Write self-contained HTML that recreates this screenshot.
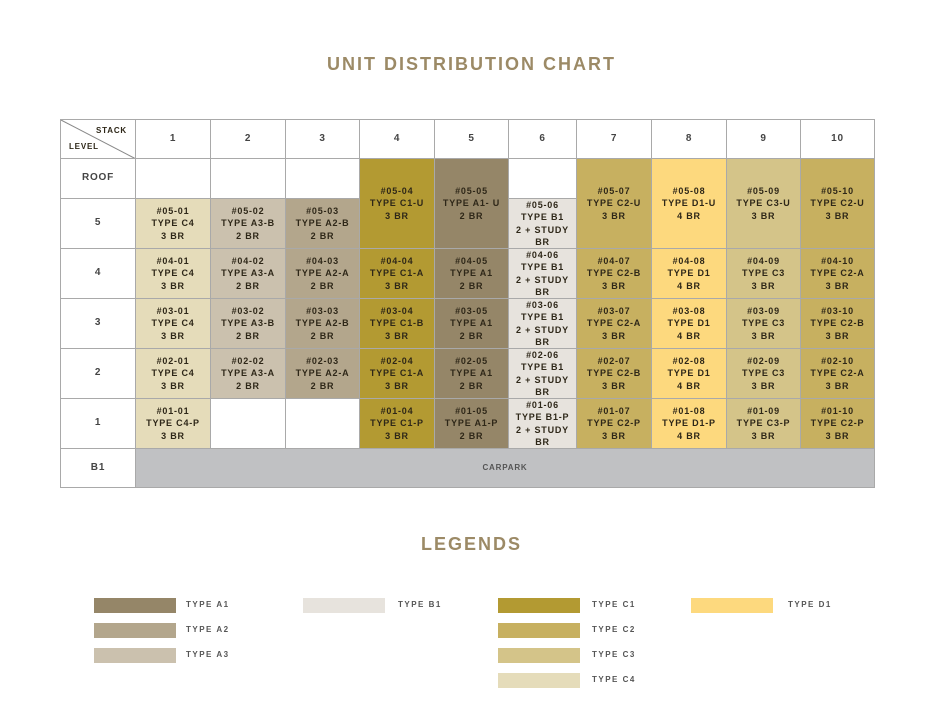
<!DOCTYPE html>
<html><head><meta charset="utf-8"><style>
body{margin:0;width:943px;height:717px;background:#fff;position:relative;font-family:"Liberation Sans",sans-serif;overflow:hidden}
.t{position:absolute;color:#9c8a66;letter-spacing:2px;text-align:center;width:943px;left:0;font-weight:bold}
.c{position:absolute;box-sizing:border-box;border:1px solid #a9a9a9;display:flex;align-items:center;justify-content:center;text-align:center;font-size:9px;letter-spacing:0.8px;line-height:12.5px;color:#2e2718;font-weight:bold}
.h{font-size:10px;color:#444}
.A1{background:#958668}.A2{background:#b3a68c}.A3{background:#cbc1ae}.B1{background:#e7e3dd}.C1{background:#b39a32}.C2{background:#c7b060}.C3{background:#d4c489}.C4{background:#e5dcba}.D1{background:#fdd97e}
.s{position:absolute;width:82px;height:15px}
.l{position:absolute;font-size:8px;letter-spacing:1.5px;color:#555;font-weight:bold}
</style></head><body>
<div class="t" style="top:54px;font-size:18px">UNIT DISTRIBUTION CHART</div>
<div class="t" style="top:534px;font-size:18px">LEGENDS</div>

<div class="c" style="left:60px;top:119px;width:76px;height:40px;display:block">
<svg width="75" height="39" style="position:absolute;left:0;top:0"><line x1="0" y1="0" x2="75" y2="39" stroke="#888" stroke-width="1"/></svg>
<span style="position:absolute;right:8px;top:5px;font-size:8px">STACK</span>
<span style="position:absolute;left:8px;bottom:5px;font-size:8px">LEVEL</span></div>
<div class="c h" style="left:135px;top:119px;width:76px;height:40px">1</div>
<div class="c h" style="left:210px;top:119px;width:76px;height:40px">2</div>
<div class="c h" style="left:285px;top:119px;width:75px;height:40px">3</div>
<div class="c h" style="left:359px;top:119px;width:76px;height:40px">4</div>
<div class="c h" style="left:434px;top:119px;width:75px;height:40px">5</div>
<div class="c h" style="left:508px;top:119px;width:69px;height:40px">6</div>
<div class="c h" style="left:576px;top:119px;width:76px;height:40px">7</div>
<div class="c h" style="left:651px;top:119px;width:76px;height:40px">8</div>
<div class="c h" style="left:726px;top:119px;width:75px;height:40px">9</div>
<div class="c h" style="left:800px;top:119px;width:75px;height:40px">10</div>

<div class="c h" style="left:60px;top:158px;width:76px;height:41px">ROOF</div>
<div class="c h" style="left:60px;top:198px;width:76px;height:51px">5</div>
<div class="c h" style="left:60px;top:248px;width:76px;height:51px">4</div>
<div class="c h" style="left:60px;top:298px;width:76px;height:51px">3</div>
<div class="c h" style="left:60px;top:348px;width:76px;height:51px">2</div>
<div class="c h" style="left:60px;top:398px;width:76px;height:51px">1</div>
<div class="c h" style="left:60px;top:448px;width:76px;height:40px">B1</div>
<div class="c" style="left:135px;top:448px;width:740px;height:40px;background:#c0c1c3;font-size:8px;color:#555">CARPARK</div>

<div class="c" style="left:135px;top:158px;width:76px;height:41px"></div>
<div class="c" style="left:210px;top:158px;width:76px;height:41px"></div>
<div class="c" style="left:285px;top:158px;width:75px;height:41px"></div>
<div class="c" style="left:508px;top:158px;width:69px;height:41px"></div>

<div class="c C4" style="left:135px;top:198px;width:76px;height:51px">#05-01<br>TYPE C4<br>3 BR</div>
<div class="c C4" style="left:135px;top:248px;width:76px;height:51px">#04-01<br>TYPE C4<br>3 BR</div>
<div class="c C4" style="left:135px;top:298px;width:76px;height:51px">#03-01<br>TYPE C4<br>3 BR</div>
<div class="c C4" style="left:135px;top:348px;width:76px;height:51px">#02-01<br>TYPE C4<br>3 BR</div>
<div class="c C4" style="left:135px;top:398px;width:76px;height:51px">#01-01<br>TYPE C4-P<br>3 BR</div>
<div class="c A3" style="left:210px;top:198px;width:76px;height:51px">#05-02<br>TYPE A3-B<br>2 BR</div>
<div class="c A3" style="left:210px;top:248px;width:76px;height:51px">#04-02<br>TYPE A3-A<br>2 BR</div>
<div class="c A3" style="left:210px;top:298px;width:76px;height:51px">#03-02<br>TYPE A3-B<br>2 BR</div>
<div class="c A3" style="left:210px;top:348px;width:76px;height:51px">#02-02<br>TYPE A3-A<br>2 BR</div>
<div class="c" style="left:210px;top:398px;width:76px;height:51px"></div>
<div class="c A2" style="left:285px;top:198px;width:75px;height:51px">#05-03<br>TYPE A2-B<br>2 BR</div>
<div class="c A2" style="left:285px;top:248px;width:75px;height:51px">#04-03<br>TYPE A2-A<br>2 BR</div>
<div class="c A2" style="left:285px;top:298px;width:75px;height:51px">#03-03<br>TYPE A2-B<br>2 BR</div>
<div class="c A2" style="left:285px;top:348px;width:75px;height:51px">#02-03<br>TYPE A2-A<br>2 BR</div>
<div class="c" style="left:285px;top:398px;width:75px;height:51px"></div>
<div class="c C1" style="left:359px;top:158px;width:76px;height:91px">#05-04<br>TYPE C1-U<br>3 BR</div>
<div class="c C1" style="left:359px;top:248px;width:76px;height:51px">#04-04<br>TYPE C1-A<br>3 BR</div>
<div class="c C1" style="left:359px;top:298px;width:76px;height:51px">#03-04<br>TYPE C1-B<br>3 BR</div>
<div class="c C1" style="left:359px;top:348px;width:76px;height:51px">#02-04<br>TYPE C1-A<br>3 BR</div>
<div class="c C1" style="left:359px;top:398px;width:76px;height:51px">#01-04<br>TYPE C1-P<br>3 BR</div>
<div class="c A1" style="left:434px;top:158px;width:75px;height:91px">#05-05<br>TYPE A1- U<br>2 BR</div>
<div class="c A1" style="left:434px;top:248px;width:75px;height:51px">#04-05<br>TYPE A1<br>2 BR</div>
<div class="c A1" style="left:434px;top:298px;width:75px;height:51px">#03-05<br>TYPE A1<br>2 BR</div>
<div class="c A1" style="left:434px;top:348px;width:75px;height:51px">#02-05<br>TYPE A1<br>2 BR</div>
<div class="c A1" style="left:434px;top:398px;width:75px;height:51px">#01-05<br>TYPE A1-P<br>2 BR</div>
<div class="c B1" style="left:508px;top:198px;width:69px;height:51px">#05-06<br>TYPE B1<br>2 + STUDY<br>BR</div>
<div class="c B1" style="left:508px;top:248px;width:69px;height:51px">#04-06<br>TYPE B1<br>2 + STUDY<br>BR</div>
<div class="c B1" style="left:508px;top:298px;width:69px;height:51px">#03-06<br>TYPE B1<br>2 + STUDY<br>BR</div>
<div class="c B1" style="left:508px;top:348px;width:69px;height:51px">#02-06<br>TYPE B1<br>2 + STUDY<br>BR</div>
<div class="c B1" style="left:508px;top:398px;width:69px;height:51px">#01-06<br>TYPE B1-P<br>2 + STUDY<br>BR</div>
<div class="c C2" style="left:576px;top:158px;width:76px;height:91px">#05-07<br>TYPE C2-U<br>3 BR</div>
<div class="c C2" style="left:576px;top:248px;width:76px;height:51px">#04-07<br>TYPE C2-B<br>3 BR</div>
<div class="c C2" style="left:576px;top:298px;width:76px;height:51px">#03-07<br>TYPE C2-A<br>3 BR</div>
<div class="c C2" style="left:576px;top:348px;width:76px;height:51px">#02-07<br>TYPE C2-B<br>3 BR</div>
<div class="c C2" style="left:576px;top:398px;width:76px;height:51px">#01-07<br>TYPE C2-P<br>3 BR</div>
<div class="c D1" style="left:651px;top:158px;width:76px;height:91px">#05-08<br>TYPE D1-U<br>4 BR</div>
<div class="c D1" style="left:651px;top:248px;width:76px;height:51px">#04-08<br>TYPE D1<br>4 BR</div>
<div class="c D1" style="left:651px;top:298px;width:76px;height:51px">#03-08<br>TYPE D1<br>4 BR</div>
<div class="c D1" style="left:651px;top:348px;width:76px;height:51px">#02-08<br>TYPE D1<br>4 BR</div>
<div class="c D1" style="left:651px;top:398px;width:76px;height:51px">#01-08<br>TYPE D1-P<br>4 BR</div>
<div class="c C3" style="left:726px;top:158px;width:75px;height:91px">#05-09<br>TYPE C3-U<br>3 BR</div>
<div class="c C3" style="left:726px;top:248px;width:75px;height:51px">#04-09<br>TYPE C3<br>3 BR</div>
<div class="c C3" style="left:726px;top:298px;width:75px;height:51px">#03-09<br>TYPE C3<br>3 BR</div>
<div class="c C3" style="left:726px;top:348px;width:75px;height:51px">#02-09<br>TYPE C3<br>3 BR</div>
<div class="c C3" style="left:726px;top:398px;width:75px;height:51px">#01-09<br>TYPE C3-P<br>3 BR</div>
<div class="c C2" style="left:800px;top:158px;width:75px;height:91px">#05-10<br>TYPE C2-U<br>3 BR</div>
<div class="c C2" style="left:800px;top:248px;width:75px;height:51px">#04-10<br>TYPE C2-A<br>3 BR</div>
<div class="c C2" style="left:800px;top:298px;width:75px;height:51px">#03-10<br>TYPE C2-B<br>3 BR</div>
<div class="c C2" style="left:800px;top:348px;width:75px;height:51px">#02-10<br>TYPE C2-A<br>3 BR</div>
<div class="c C2" style="left:800px;top:398px;width:75px;height:51px">#01-10<br>TYPE C2-P<br>3 BR</div>

<div class="s A1" style="left:94px;top:598px"></div><div class="l" style="left:186px;top:600px">TYPE A1</div>
<div class="s A2" style="left:94px;top:623px"></div><div class="l" style="left:186px;top:625px">TYPE A2</div>
<div class="s A3" style="left:94px;top:648px"></div><div class="l" style="left:186px;top:650px">TYPE A3</div>
<div class="s B1" style="left:303px;top:598px"></div><div class="l" style="left:398px;top:600px">TYPE B1</div>
<div class="s C1" style="left:498px;top:598px"></div><div class="l" style="left:592px;top:600px">TYPE C1</div>
<div class="s C2" style="left:498px;top:623px"></div><div class="l" style="left:592px;top:625px">TYPE C2</div>
<div class="s C3" style="left:498px;top:648px"></div><div class="l" style="left:592px;top:650px">TYPE C3</div>
<div class="s C4" style="left:498px;top:673px"></div><div class="l" style="left:592px;top:675px">TYPE C4</div>
<div class="s D1" style="left:691px;top:598px"></div><div class="l" style="left:788px;top:600px">TYPE D1</div>
</body></html>
